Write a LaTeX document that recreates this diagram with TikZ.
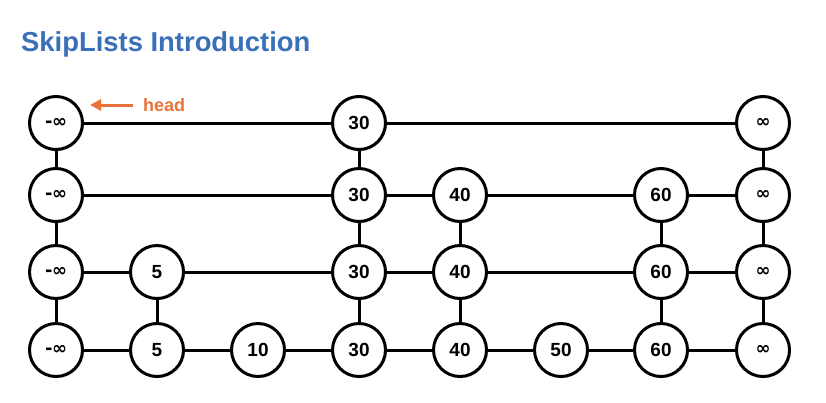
\documentclass[tikz,border=0pt]{standalone}
\usepackage{fontspec}
\setmainfont{Liberation Sans}
\newfontfamily\symfont{DejaVu Sans}
\usetikzlibrary{shadows,arrows.meta}
\definecolor{titleblue}{HTML}{3A70B8}
\definecolor{headorange}{HTML}{EA7139}
\tikzset{
  sknode/.style={circle,draw=black,line width=3pt,fill=white,minimum size=53pt,inner sep=0pt,
    font=\fontsize{19}{19}\selectfont\bfseries,
    drop shadow={opacity=0.3,shadow xshift=1.5pt,shadow yshift=-1.5pt}},
  link/.style={line width=3pt,draw=black}
}
\newcommand{\nginf}{{\symfont\fontsize{18}{18}\selectfont\bfseries -\kern-0.5pt∞}}
\newcommand{\psinf}{{\symfont\fontsize{18}{18}\selectfont ∞}}
\begin{document}
\begin{tikzpicture}[x=1pt,y=-1pt]
\useasboundingbox (0,0) rectangle (826,402);
\node[anchor=base west,inner sep=0pt,text=titleblue,font=\fontsize{27.4}{27.4}\selectfont\bfseries] (title) at (21,51) {SkipLists Introduction};
\def\cA{56}\def\cB{157}\def\cC{258}\def\cD{359}\def\cE{460}\def\cF{561}\def\cG{661}\def\cH{763}
\def\rA{123}\def\rB{195}\def\rC{272}\def\rD{350}
% row 1
\node[sknode] (a1) at (\cA,\rA) {\nginf};
\node[sknode] (d1) at (\cD,\rA) {30};
\node[sknode] (h1) at (\cH,\rA) {\psinf};
% row 2
\node[sknode] (a2) at (\cA,\rB) {\nginf};
\node[sknode] (d2) at (\cD,\rB) {30};
\node[sknode] (e2) at (\cE,\rB) {40};
\node[sknode] (g2) at (\cG,\rB) {60};
\node[sknode] (h2) at (\cH,\rB) {\psinf};
% row 3
\node[sknode] (a3) at (\cA,\rC) {\nginf};
\node[sknode] (b3) at (\cB,\rC) {5};
\node[sknode] (d3) at (\cD,\rC) {30};
\node[sknode] (e3) at (\cE,\rC) {40};
\node[sknode] (g3) at (\cG,\rC) {60};
\node[sknode] (h3) at (\cH,\rC) {\psinf};
% row 4
\node[sknode] (a4) at (\cA,\rD) {\nginf};
\node[sknode] (b4) at (\cB,\rD) {5};
\node[sknode] (c4) at (\cC,\rD) {10};
\node[sknode] (d4) at (\cD,\rD) {30};
\node[sknode] (e4) at (\cE,\rD) {40};
\node[sknode] (f4) at (\cF,\rD) {50};
\node[sknode] (g4) at (\cG,\rD) {60};
\node[sknode] (h4) at (\cH,\rD) {\psinf};
% links
\draw[link] (a1) -- (d1) -- (h1);
\draw[link] (a2) -- (d2); \draw[link] (d2) -- (e2); \draw[link] (e2) -- (g2); \draw[link] (g2) -- (h2);
\draw[link] (a3) -- (b3); \draw[link] (b3) -- (d3); \draw[link] (d3) -- (e3); \draw[link] (e3) -- (g3); \draw[link] (g3) -- (h3);
\draw[link] (a4) -- (b4); \draw[link] (b4) -- (c4); \draw[link] (c4) -- (d4); \draw[link] (d4) -- (e4);
\draw[link] (e4) -- (f4); \draw[link] (f4) -- (g4); \draw[link] (g4) -- (h4);
\draw[link] (a1) -- (a2); \draw[link] (a2) -- (a3); \draw[link] (a3) -- (a4);
\draw[link] (d1) -- (d2); \draw[link] (d2) -- (d3); \draw[link] (d3) -- (d4);
\draw[link] (h1) -- (h2); \draw[link] (h2) -- (h3); \draw[link] (h3) -- (h4);
\draw[link] (e2) -- (e3); \draw[link] (e3) -- (e4);
\draw[link] (g2) -- (g3); \draw[link] (g3) -- (g4);
\draw[link] (b3) -- (b4);
% head label
\node[anchor=west,inner sep=0pt,text=headorange,font=\fontsize{18}{18}\selectfont\bfseries] (head) at (143,105) {head};
\coordinate (headtip) at (90,105);
\draw[line width=3pt,draw=headorange,-{Triangle[length=11pt,width=11pt]}] (133,105) -- (headtip);
\end{tikzpicture}
\end{document}
